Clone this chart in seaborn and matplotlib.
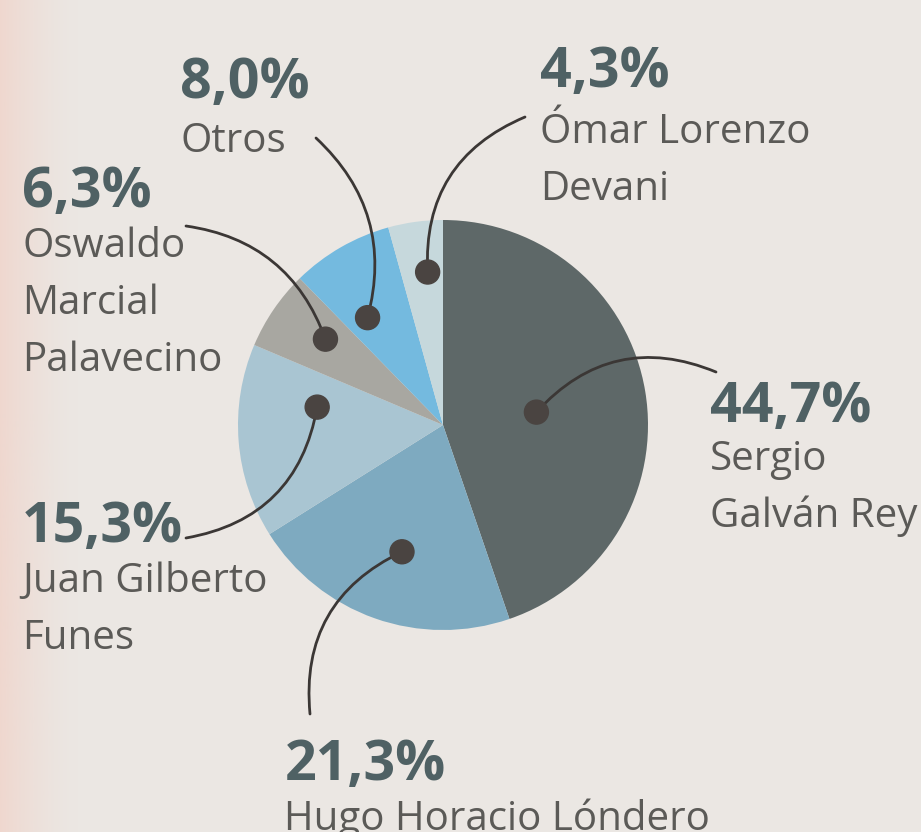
import numpy as np
import seaborn as sns
import matplotlib.pyplot as plt
from matplotlib.colors import to_rgb
from matplotlib.patches import Circle

# results: share of the vote (%)
candidates = [["Sergio", "Galván Rey"], ["Hugo Horacio Lóndero"], ["Juan Gilberto", "Funes"],
              ["Oswaldo", "Marcial", "Palavecino"], ["Otros"], ["Ómar Lorenzo", "Devani"]]
shares = [44.7, 21.3, 15.3, 6.3, 8.0, 4.3]
pct_labels = ["44,7%", "21,3%", "15,3%", "6,3%", "8,0%", "4,3%"]
colors = ["#5e6868", "#7eaac0", "#a9c5d2", "#a8a7a1", "#74badf", "#c6d8dc"]

sns.set_theme(style="white")
plt.rcParams["font.family"] = ["Open Sans", "DejaVu Sans"]

W, H = 921, 832
def P(x, y):
    return (x, H - y)

fig = plt.figure(figsize=(W / 100, H / 100), dpi=100)
fig.patch.set_facecolor("#ebe7e3")
ax = fig.add_axes([0, 0, 1, 1])
ax.set_facecolor("#ebe7e3")

# faint pink tint on the left edge of the scan, fading out
tint = np.zeros((1, 80, 4))
tint[..., :3] = to_rgb("#f2cfc4")
tint[..., 3] = np.linspace(0.75, 0, 80) ** 1.5
ax.imshow(tint, extent=(0, 80, 0, H), aspect="auto", zorder=0)

cx, cy = P(443, 425)
R = 205
ax.pie(shares, colors=colors, startangle=90, counterclock=False,
       center=(cx, cy), radius=R, wedgeprops=dict(linewidth=0))
ax.set_xlim(0, W)
ax.set_ylim(0, H)
ax.axis("off")

# where the dot sits inside each wedge (fraction of the wedge angle, fraction of radius)
dot_frac = [0.51, 0.48, 0.73, 0.58, 0.32, 0.63]
dot_rad = [0.46, 0.65, 0.62, 0.71, 0.64, 0.75]
# start of leader line (near label), curvature
line_start = [(716, 372), (310, 714), (186, 538), (186, 226), (316, 138), (525, 117)]
line_rad = [0.35, -0.35, 0.35, -0.3, -0.3, 0.35]

# label layout: percent (left x, baseline y), first name line baseline
pct_pos = [(710, 422), (285, 780), (22, 542), (22, 207), (180, 98), (540, 87)]
name_pos = [(710, 470), (284, 830), (22, 592), (22, 257), (180, 152), (540, 143)]
line_gap = 57

total = sum(shares)
a = 90.0
for i, s in enumerate(shares):
    a_end = a - 360 * s / total
    ang = np.radians(a + dot_frac[i] * (a_end - a))
    dx = cx + dot_rad[i] * R * np.cos(ang)
    dy = cy + dot_rad[i] * R * np.sin(ang)
    a = a_end
    ax.annotate("", xy=(dx, dy), xytext=P(*line_start[i]),
                arrowprops=dict(arrowstyle="-", color="#3b3735", lw=2.0,
                                shrinkA=0, shrinkB=0,
                                connectionstyle=f"arc3,rad={line_rad[i]}"))
    ax.add_patch(Circle((dx, dy), 12, color="#4a4441", zorder=5))

    ax.text(*P(*pct_pos[i]), pct_labels[i], fontsize=40, fontweight="bold",
            color="#4f6164", ha="left", va="baseline")
    for k, line in enumerate(candidates[i]):
        x0, y0 = name_pos[i]
        ax.text(*P(x0, y0 + k * line_gap), line, fontsize=29, color="#5b5a57",
                ha="left", va="baseline")

plt.savefig("out.png", dpi=100, facecolor=fig.get_facecolor())
